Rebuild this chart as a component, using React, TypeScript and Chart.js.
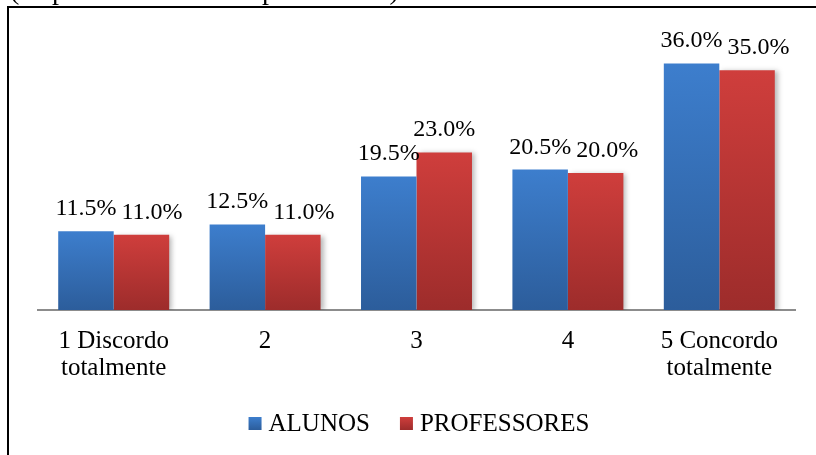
import React, { useEffect, useRef } from "react";
import { Chart, registerables } from "chart.js";

Chart.register(...registerables);

const categories: (string | string[])[] = [
  ["1 Discordo", "totalmente"],
  "2",
  "3",
  "4",
  ["5 Concordo", "totalmente"],
];
const alunos = [11.5, 12.5, 19.5, 20.5, 36.0];
const professores = [11.0, 11.0, 23.0, 20.0, 35.0];
const seriesNames = ["ALUNOS", "PROFESSORES"];
const caption = "(respostas de alunos e professores)";

const FONT = "'Liberation Serif', 'Times New Roman', serif";
const W = 816;
const H = 455;

// top / bottom colours of each series' vertical gradient
const blueStops = ["rgb(61,126,205)", "rgb(44,93,155)"];
const redStops = ["rgb(207,62,60)", "rgb(157,44,43)"];

function barGradient(stops: string[]) {
  return (ctx: any) => {
    const chart = ctx.chart;
    const yScale = chart.scales?.y;
    if (!yScale || ctx.type !== "data" || ctx.raw == null) return stops[0];
    const top = yScale.getPixelForValue(ctx.raw);
    const base = yScale.getPixelForValue(0);
    if (!isFinite(top) || !isFinite(base) || top === base) return stops[0];
    const g = chart.ctx.createLinearGradient(0, top, 0, base);
    g.addColorStop(0, stops[0]);
    g.addColorStop(1, stops[1]);
    return g;
  };
}

// frame, cut-off caption line, value labels and legend
const decorPlugin = {
  id: "decor",
  beforeDraw(chart: any) {
    const c = chart.ctx;
    c.save();
    c.fillStyle = "#ffffff";
    c.fillRect(0, 0, W, H);
    c.fillStyle = "#000000";
    c.font = `28px ${FONT}`;
    c.textBaseline = "alphabetic";
    c.textAlign = "left";
    c.fillText(caption, 10, -1.5);
    c.fillRect(7, 6, 2, H);
    c.fillRect(7, 6, W, 2);
    c.restore();
  },
  beforeDatasetDraw(chart: any, args: any) {
    if (args.index === 1) {
      const c = chart.ctx;
      c.save();
      c.shadowColor = "rgba(0,0,0,0.28)";
      c.shadowBlur = 5;
      c.shadowOffsetX = 3;
      c.shadowOffsetY = 1;
    }
  },
  afterDatasetDraw(chart: any, args: any) {
    if (args.index === 1) chart.ctx.restore();
  },
  afterDatasetsDraw(chart: any) {
    const c = chart.ctx;
    c.save();
    c.fillStyle = "#000000";
    c.font = `24px ${FONT}`;
    c.textAlign = "left";
    c.textBaseline = "alphabetic";
    const textH = 18;
    const gap = 5;
    const metaA = chart.getDatasetMeta(0);
    const metaB = chart.getDatasetMeta(1);
    const dsA = chart.data.datasets[0].data as number[];
    const dsB = chart.data.datasets[1].data as number[];
    metaA.data.forEach((barA: any, j: number) => {
      const barB = metaB.data[j];
      const tA = dsA[j].toFixed(1) + "%";
      const tB = dsB[j].toFixed(1) + "%";
      const wA = c.measureText(tA).width;
      const wB = c.measureText(tB).width;
      const xA = barA.x - wA / 2;
      let xB = barB.x - wB / 2;
      const yA = barA.y - 16;
      const yB = barB.y - 16;
      // keep the second label clear of the first when they sit on the same line
      if (Math.abs(yA - yB) < textH && xB < xA + wA + gap) xB = xA + wA + gap;
      c.fillText(tA, xA, yA);
      c.fillText(tB, xB, yB);
    });

    // legend
    c.font = `25px ${FONT}`;
    const box = 13;
    const gapText = 7;
    const gapItem = 30;
    const widths = seriesNames.map((n) => c.measureText(n).width);
    const total =
      widths.reduce((a: number, b: number) => a + b, 0) +
      seriesNames.length * (box + gapText) +
      gapItem * (seriesNames.length - 1);
    let x = 419 - total / 2;
    const baseline = 431;
    const boxTop = 417;
    const stops = [blueStops, redStops];
    seriesNames.forEach((n, i) => {
      const g = c.createLinearGradient(0, boxTop, 0, boxTop + box);
      g.addColorStop(0, stops[i][0]);
      g.addColorStop(1, stops[i][1]);
      c.fillStyle = g;
      c.fillRect(x, boxTop, box, box);
      c.fillStyle = "#000000";
      c.fillText(n, x + box + gapText, baseline);
      x += box + gapText + widths[i] + gapItem;
    });
    c.restore();
  },
};

export default function App() {
  const ref = useRef<HTMLCanvasElement | null>(null);

  useEffect(() => {
    if (!ref.current) return;
    const chart = new Chart(ref.current, {
      type: "bar",
      data: {
        labels: categories,
        datasets: [
          {
            label: seriesNames[0],
            data: alunos,
            backgroundColor: barGradient(blueStops),
            borderWidth: 0,
            categoryPercentage: 0.733,
            barPercentage: 1,
          },
          {
            label: seriesNames[1],
            data: professores,
            backgroundColor: barGradient(redStops),
            borderWidth: 0,
            categoryPercentage: 0.733,
            barPercentage: 1,
          },
        ],
      },
      options: {
        responsive: false,
        animation: false,
        devicePixelRatio: 1,
        layout: { padding: { top: 36, left: 38, right: 21, bottom: 0 } },
        plugins: {
          legend: { display: false },
          tooltip: { enabled: false },
          title: { display: false },
        },
        scales: {
          x: {
            grid: { display: false, drawTicks: false },
            border: { display: true, color: "#8c8c8c", width: 2 },
            ticks: {
              color: "#000000",
              font: { family: FONT, size: 25, lineHeight: 1.09 },
              padding: 18,
              maxRotation: 0,
              autoSkip: false,
            },
            afterFit(scale: any) {
              scale.height = H - 310;
            },
          },
          y: {
            display: false,
            min: 0,
            max: 40,
          },
        },
      },
      plugins: [decorPlugin],
    });
    return () => chart.destroy();
  }, []);

  return (
    <div style={{ position: "fixed", left: 0, top: 0, width: W, height: H, background: "#fff" }}>
      <canvas ref={ref} width={W} height={H} style={{ width: W, height: H, display: "block" }} />
    </div>
  );
}
